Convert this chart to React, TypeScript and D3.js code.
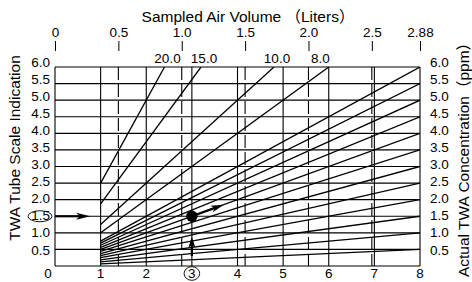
import * as d3 from 'd3';

// sampling time (hours) on the bottom axis
const hours = [0, 1, 2, 3, 4, 5, 6, 7, 8];
// tube scale readings / actual concentrations (ppm) on the side axes
const readings = [0.5, 1.0, 1.5, 2.0, 2.5, 3.0, 3.5, 4.0, 4.5, 5.0, 5.5, 6.0];
// sampled air volume on the top axis
const volumeTicks = [0, 0.5, 1.0, 1.5, 2.0, 2.5, 2.88];
const volumeLabels = ['0', '0.5', '1.0', '1.5', '2.0', '2.5', '2.88'];
const dashedVolumes = [0.5, 1.0, 1.5, 2.0, 2.5];
// concentration lines (ppm)
const concentrations = [0.5, 1.0, 1.5, 2.0, 2.5, 3.0, 3.5, 4.0, 4.5, 5.0, 5.5, 6.0, 8.0, 10.0, 15.0, 20.0];
const topConcLabels = [20.0, 15.0, 10.0, 8.0];
const fullTime = 8;
const totalVolume = 2.88;
const maxReading = 6;
// worked example: 3 h, reading 1.5 -> 4.0 ppm
const exTime = 3;
const exReading = 1.5;
const exConc = 4.0;

const FONT = "'Liberation Sans', Arial, 'Noto Sans CJK JP', sans-serif";

function arrowHead(x1: number, y1: number, x2: number, y2: number, len = 12, half = 3.5) {
  const a = Math.atan2(y2 - y1, x2 - x1);
  const bx = x2 - len * Math.cos(a);
  const by = y2 - len * Math.sin(a);
  const px = -Math.sin(a) * half;
  const py = Math.cos(a) * half;
  return `M${x2},${y2}L${bx + px},${by + py}L${bx + len * 0.25 * Math.cos(a)},${by + len * 0.25 * Math.sin(a)}L${bx - px},${by - py}Z`;
}

export default function App() {
  const x = d3.scaleLinear().domain([0, fullTime]).range([55, 420]);
  const y = d3.scaleLinear().domain([0, maxReading]).range([266, 67]);
  const xv = d3.scaleLinear().domain([0, totalVolume]).range([x(0), x(fullTime)]);
  // tick label baselines sit on a slightly wider spacing than the grid
  const yLab = d3.scaleLinear().domain([0.5, 6]).range([254.5, 66.5]);
  const line = d3.line<[number, number]>().x((d) => x(d[0])).y((d) => y(d[1]));

  const concLine = (c: number) => {
    const tEnd = Math.min(fullTime, (maxReading * fullTime) / c);
    return line([
      [1, (c * 1) / fullTime],
      [tEnd, (c * tEnd) / fullTime],
    ]) as string;
  };

  const gridY = [0, ...readings];

  // example arrows
  const arrowEndT = 3.7;
  const ax1 = x(exTime), ay1 = y(exReading);
  const ax2 = x(arrowEndT), ay2 = y((exConc * arrowEndT) / fullTime);
  const ang = Math.atan2(ay2 - ay1, ax2 - ax1);
  const upBottom = y(0.3), upTip = y(0.88);
  const leftTip = x(0.77);
  const tickFont = 13.5;

  return (
    <svg
      width={472}
      height={282}
      style={{ position: 'absolute', left: 0, top: 0, background: '#fff' }}
      fontFamily={FONT}
    >
      <rect width={472} height={282} fill="#fff" />
      {/* titles */}
      <text x={248} y={22} textAnchor="middle" fontSize={15.5}>
        Sampled Air Volume （Liters）
      </text>
      <text transform="translate(20,148) rotate(-90)" textAnchor="middle" fontSize={15.5}>
        TWA Tube Scale Indication
      </text>
      <text transform="translate(469,156) rotate(-90)" textAnchor="middle" fontSize={15.5}>
        Actual TWA Concentration（ppm）
      </text>

      {/* top volume axis */}
      {volumeTicks.map((v, i) => (
        <g key={'v' + v}>
          <line x1={xv(v) + 0.5} x2={xv(v) + 0.5} y1={41} y2={51} stroke="#000" strokeWidth={1} />
          <text x={xv(v) + 0.5} y={37} textAnchor="middle" fontSize={tickFont}>
            {volumeLabels[i]}
          </text>
        </g>
      ))}

      {/* grid */}
      {gridY.map((r) => (
        <line key={'h' + r} x1={x(0)} x2={x(fullTime)} y1={y(r)} y2={y(r)} stroke="#000" strokeWidth={1.1} />
      ))}
      {hours.map((t) => (
        <line key={'t' + t} x1={x(t)} x2={x(t)} y1={y(0)} y2={y(maxReading)} stroke="#000" strokeWidth={1.1} />
      ))}
      {dashedVolumes.map((v) => (
        <line
          key={'d' + v}
          x1={xv(v)}
          x2={xv(v)}
          y1={y(maxReading)}
          y2={y(0)}
          stroke="#000"
          strokeWidth={1.1}
          strokeDasharray="13,4"
        />
      ))}

      {/* concentration lines */}
      <g clipPath="url(#plot)">
        {concentrations.map((c) => (
          <path key={'c' + c} d={concLine(c)} stroke="#000" strokeWidth={1.3} fill="none" />
        ))}
      </g>
      <defs>
        <clipPath id="plot">
          <rect x={x(0)} y={y(maxReading)} width={x(fullTime) - x(0)} height={y(0) - y(maxReading)} />
        </clipPath>
      </defs>

      {/* top concentration labels */}
      {topConcLabels.map((c) => {
        const tEnd = (maxReading * fullTime) / c;
        const anchorEnd = c === 8;
        return (
          <text
            key={'tl' + c}
            x={x(tEnd) + (anchorEnd ? 1 : 3)}
            y={63}
            textAnchor={anchorEnd ? 'end' : 'middle'}
            fontSize={tickFont}
          >
            {c.toFixed(1)}
          </text>
        );
      })}

      {/* left and right reading labels */}
      {readings.map((r) => (
        <g key={'r' + r}>
          <text x={50} y={yLab(r)} textAnchor="end" fontSize={tickFont}>
            {r.toFixed(1)}
          </text>
          <text x={430} y={yLab(r)} textAnchor="start" fontSize={tickFont}>
            {r.toFixed(1)}
          </text>
        </g>
      ))}
      <ellipse cx={40} cy={y(exReading)} rx={12} ry={5.5} fill="none" stroke="#000" strokeWidth={0.9} />

      {/* bottom hour labels */}
      {hours.map((t) => (
        <text key={'b' + t} x={x(t) - (t === 0 ? 7 : 0)} y={278} textAnchor="middle" fontSize={tickFont}>
          {t}
        </text>
      ))}
      <ellipse cx={x(exTime)} cy={273.5} rx={7.8} ry={6.8} fill="none" stroke="#000" strokeWidth={0.9} />

      {/* example arrows */}
      <line x1={x(0)} x2={leftTip - 8} y1={y(exReading)} y2={y(exReading)} stroke="#000" strokeWidth={2.2} />
      <path d={arrowHead(x(0), y(exReading), leftTip, y(exReading), 14, 3.5)} fill="#000" />
      <line x1={x(exTime)} x2={x(exTime)} y1={upBottom} y2={upTip + 6} stroke="#000" strokeWidth={2.2} />
      <path d={arrowHead(x(exTime), upBottom, x(exTime), upTip, 11, 3.5)} fill="#000" />
      <line x1={ax1} y1={ay1} x2={ax2 - 8 * Math.cos(ang)} y2={ay2 - 8 * Math.sin(ang)} stroke="#000" strokeWidth={2.2} />
      <path d={arrowHead(ax1, ay1, ax2, ay2, 13, 3.5)} fill="#000" />
      <circle cx={ax1} cy={ay1} r={5.7} fill="#000" />
    </svg>
  );
}
